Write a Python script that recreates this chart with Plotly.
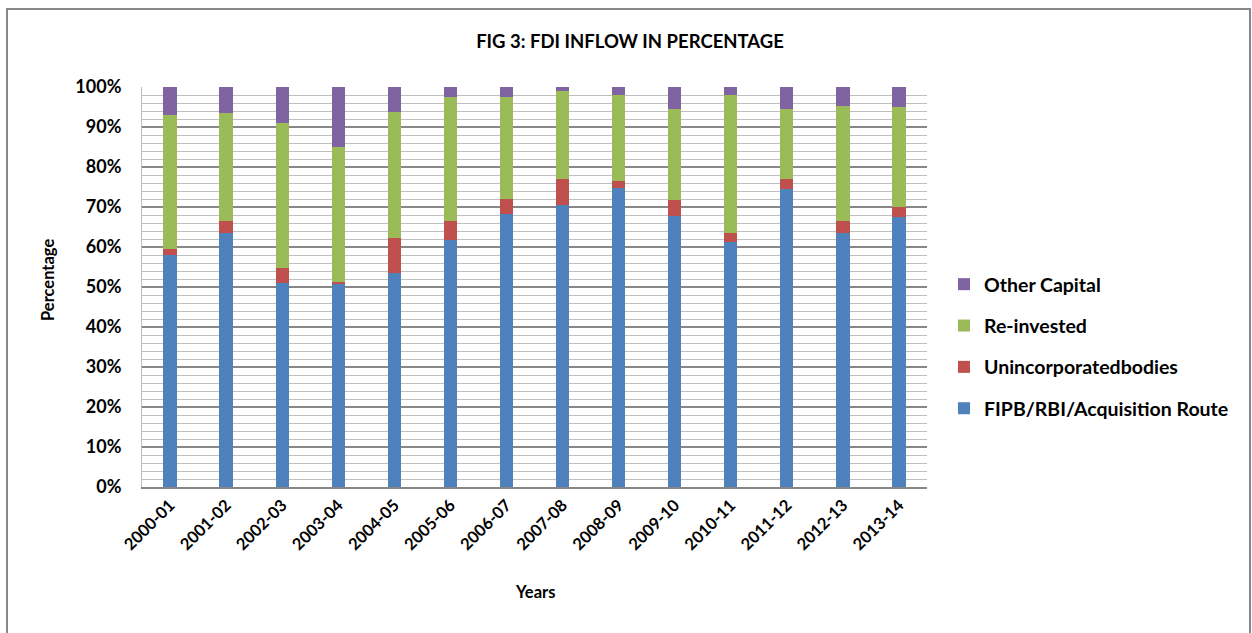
import plotly.graph_objects as go

# FDI inflow composition by year (percent of total)
years = ["2000-01", "2001-02", "2002-03", "2003-04", "2004-05", "2005-06", "2006-07",
         "2007-08", "2008-09", "2009-10", "2010-11", "2011-12", "2012-13", "2013-14"]
fipb_rbi = [58.0, 63.6, 50.9, 50.8, 53.6, 61.7, 68.2, 70.5, 74.7, 67.7, 61.2, 74.6, 63.5, 67.4]
unincorporated = [1.4, 3.0, 3.9, 0.5, 8.7, 4.9, 3.9, 6.5, 1.7, 4.1, 2.4, 2.3, 3.0, 2.6]
reinvested = [33.7, 26.9, 36.3, 33.8, 31.4, 30.8, 25.5, 22.1, 21.6, 22.8, 34.3, 17.6, 28.8, 24.9]
other_capital = [6.9, 6.5, 8.9, 14.9, 6.3, 2.6, 2.4, 0.9, 2.0, 5.4, 2.1, 5.5, 4.7, 5.1]
y_ticks = [0, 10, 20, 30, 40, 50, 60, 70, 80, 90, 100]
y_tick_labels = ["0%", "10%", "20%", "30%", "40%", "50%", "60%", "70%", "80%", "90%", "100%"]

series = [
    ("FIPB/RBI/Acquisition Route", fipb_rbi, "#4F81BD"),
    ("Unincorporatedbodies", unincorporated, "#C0504D"),
    ("Re-invested", reinvested, "#9BBB59"),
    ("Other Capital", other_capital, "#8064A2"),
]

FONT = "Lato"
W, H = 1252, 633
L, R, T, B = 142, 927, 87, 487  # plot area edges in pixels

fig = go.Figure()
for i, (name, vals, color) in enumerate(series):
    fig.add_trace(go.Bar(
        x=years, y=vals, name=name, legendgroup=name,
        legendrank=len(series) - i,  # top of the stack listed first
        marker=dict(color=color, line=dict(width=0)),
    ))

def px_x(p):
    return (p - L) / (R - L)

def px_y(p):
    return (B - p) / (B - T)

fig.update_layout(
    width=W, height=H,
    margin=dict(l=L, r=W - R, t=T, b=H - B, pad=0),
    paper_bgcolor="white", plot_bgcolor="white",
    barmode="stack", bargap=0.763,
    font=dict(family=FONT, color="black", weight=700),
    title=dict(
        text="FIG 3: FDI INFLOW IN PERCENTAGE",
        x=630 / W, xanchor="center", xref="container",
        y=1 - 42 / H, yanchor="middle", yref="container",
        font=dict(family=FONT, size=18.5, color="black", weight=700),
    ),
    legend=dict(
        x=px_x(944), xanchor="left",
        y=px_y(265), yanchor="top",
        traceorder="grouped", tracegroupgap=13,
        font=dict(family=FONT, size=19.5, color="black", weight=700),
        bgcolor="rgba(0,0,0,0)",
    ),
    xaxis=dict(
        type="category", tickangle=-45,
        tickfont=dict(family=FONT, size=16.5, color="black", weight=700),
        showgrid=False, showline=True, linecolor="#868686", linewidth=2,
        ticks="", zeroline=False,
    ),
    yaxis=dict(
        range=[0, 100], tickmode="array", tickvals=y_ticks, ticktext=y_tick_labels,
        tickfont=dict(family=FONT, size=18, color="black", weight=700),
        showgrid=True, gridcolor="#878787", gridwidth=1.5,
        minor=dict(dtick=2, showgrid=True, gridcolor="#bfbfbf", gridwidth=1.3),
        showline=True, linecolor="#bfbfbf", linewidth=1,
        ticks="", ticklabelstandoff=16, zeroline=False,
    ),
    annotations=[
        dict(text="Years", xref="paper", yref="paper", x=px_x(535), y=px_y(592),
             xanchor="center", yanchor="middle", showarrow=False,
             font=dict(family=FONT, size=16.5, color="black", weight=700)),
        dict(text="Percentage", xref="paper", yref="paper", x=px_x(48), y=px_y(280),
             xanchor="center", yanchor="middle", showarrow=False, textangle=-90,
             font=dict(family=FONT, size=16.5, color="black", weight=700)),
    ],
    shapes=[
        # chart-area frame
        dict(type="rect", xref="paper", yref="paper",
             x0=px_x(7), x1=px_x(1250), y0=px_y(660), y1=px_y(9),
             line=dict(color="#878787", width=2), fillcolor="rgba(0,0,0,0)", layer="below"),
    ],
)

fig.write_html("out.html")
